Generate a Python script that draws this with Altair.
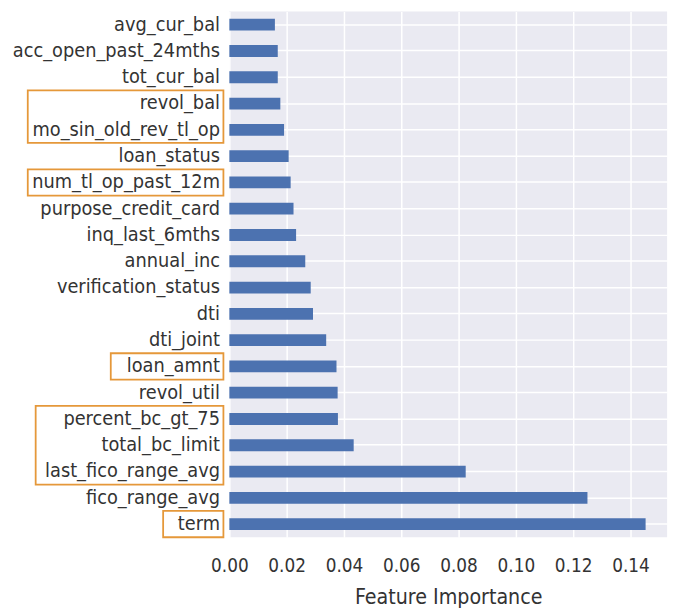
import altair as alt
import pandas as pd

features = [
    "avg_cur_bal", "acc_open_past_24mths", "tot_cur_bal", "revol_bal",
    "mo_sin_old_rev_tl_op", "loan_status", "num_tl_op_past_12m",
    "purpose_credit_card", "inq_last_6mths", "annual_inc",
    "verification_status", "dti", "dti_joint", "loan_amnt", "revol_util",
    "percent_bc_gt_75", "total_bc_limit", "last_fico_range_avg",
    "fico_range_avg", "term",
]
importance = [
    0.0159, 0.0169, 0.0169, 0.0178, 0.0191, 0.0207, 0.0214, 0.0224, 0.0233,
    0.0265, 0.0284, 0.0292, 0.0338, 0.0374, 0.0378, 0.0379, 0.0434, 0.0825,
    0.1250, 0.1453,
]
x_ticks = [0.0, 0.02, 0.04, 0.06, 0.08, 0.10, 0.12, 0.14]

# highlighted label groups (row index of first / last label, top = 0)
box_first = [3, 6, 13, 15, 19]
box_last = [4, 6, 13, 17, 19]
# left edge of each highlight box, pixels left of the plot area
box_left_px = [-204, -204, -120, -196, -67]

df = pd.DataFrame({"feature": features, "importance": importance})
boxes = pd.DataFrame({
    "top": box_first,
    "bottom": [b + 1 for b in box_last],
    "left": box_left_px,
})

FONT = "DejaVu Sans Condensed, DejaVu Sans"
TEXT = "#333333"

bars = alt.Chart(df).mark_bar(color="#4C72B0").encode(
    x=alt.X(
        "importance:Q",
        scale=alt.Scale(domain=[0, 0.1528], nice=False, zero=True),
        axis=alt.Axis(
            values=x_ticks, format=".2f", title="Feature Importance",
            grid=True, gridColor="white", gridWidth=1.5,
            domain=False, ticks=False, tickSize=0, labelFlush=False,
            labelFont=FONT, labelFontSize=19, labelColor=TEXT,
            labelPadding=20,
            titleFont=FONT, titleFontSize=21.5, titleFontWeight="normal",
            titleColor=TEXT, titlePadding=11,
        ),
    ),
    y=alt.Y(
        "feature:N", sort=features,
        scale=alt.Scale(paddingInner=0.55, paddingOuter=0.275),
        axis=alt.Axis(
            title=None, grid=True, gridColor="white", gridWidth=1.5,
            bandPosition=0.5, domain=False, ticks=False, tickSize=0,
            labelFont=FONT, labelFontSize=20, labelColor=TEXT,
            labelPadding=10, labelLimit=400,
        ),
    ),
)

box_layer = alt.Chart(boxes).mark_rect(
    fillOpacity=0, stroke="#E5983A", strokeWidth=1.8
).encode(
    x=alt.X("left:Q", scale=None),
    x2=alt.value(-6),
    y=alt.Y("top:Q", scale=alt.Scale(domain=[0, 20], reverse=True, nice=False, zero=False), axis=None),
    y2="bottom:Q",
)

chart = alt.layer(bars, box_layer).resolve_scale(y="independent").properties(
    width=443,
    height=532,
    padding={"left": 224, "top": 0, "right": 8, "bottom": 69},
    autosize=alt.AutoSizeParams(type="none"),
).configure_view(fill="#EAEAF2", strokeWidth=0)

chart.save("out.html", embed_options={"renderer": "svg", "actions": False})
